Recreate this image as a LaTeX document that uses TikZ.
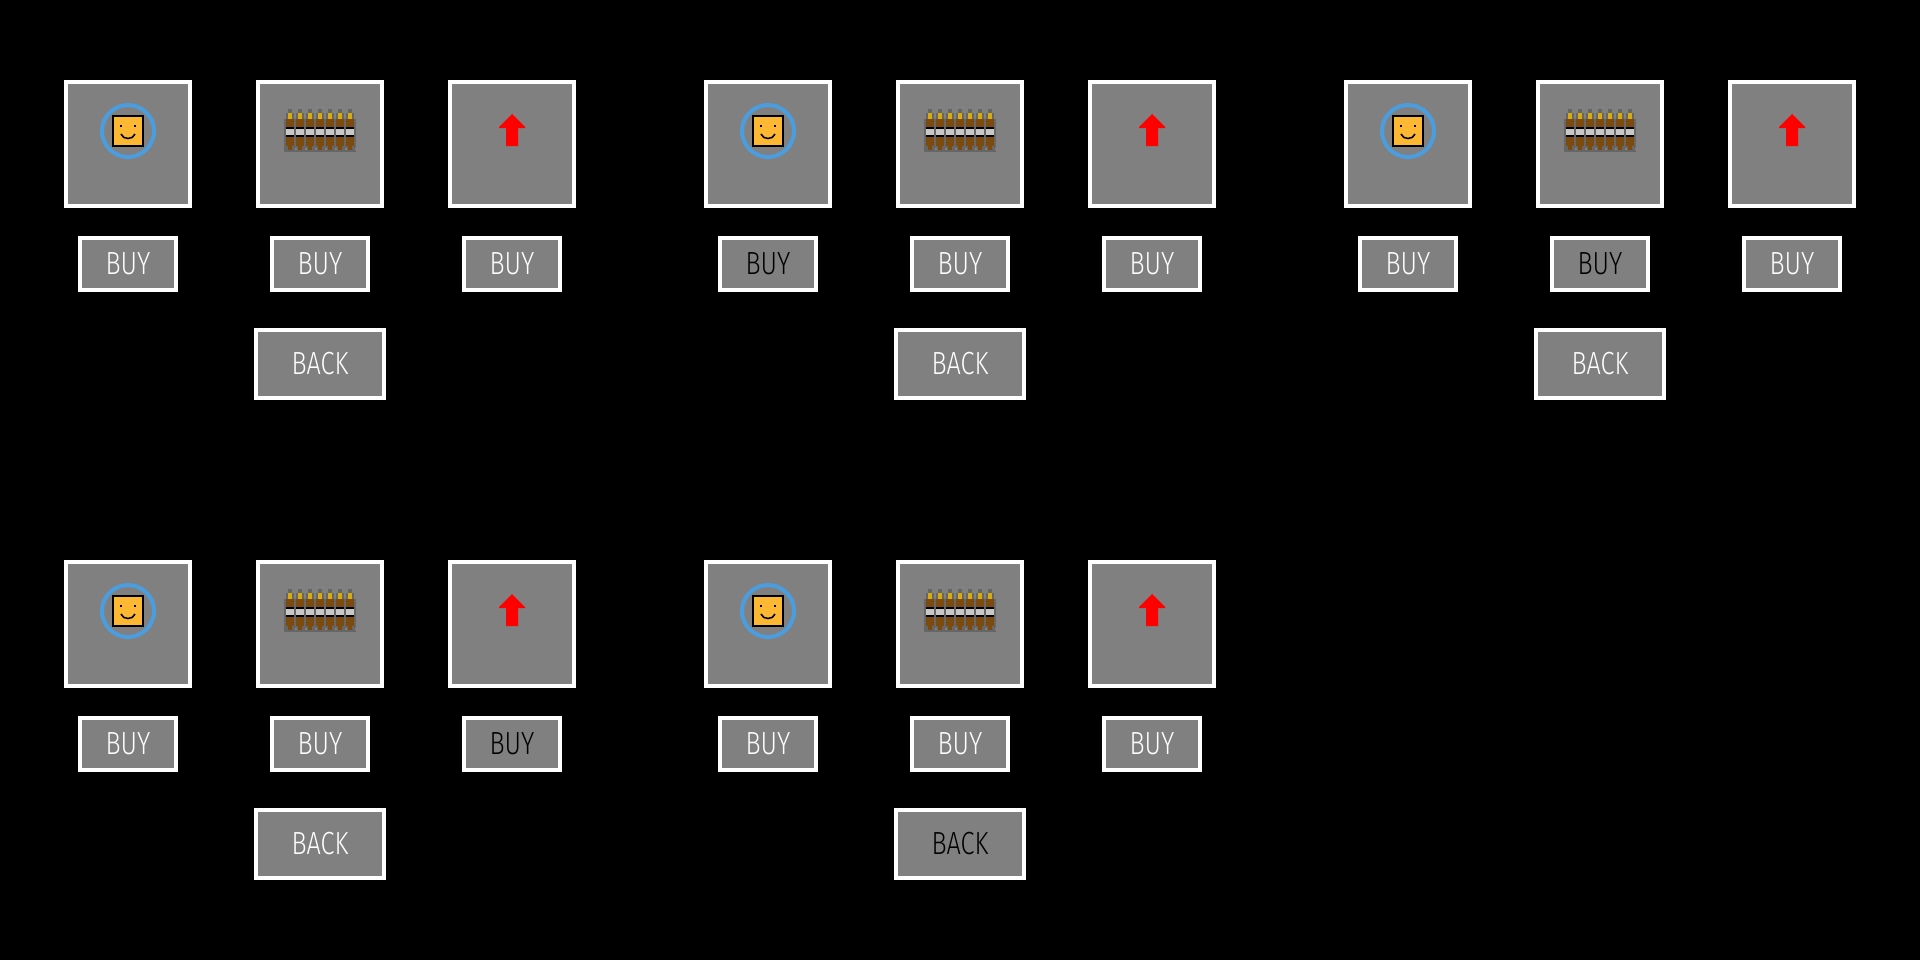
\documentclass[tikz,border=0pt]{standalone}
\usepackage{fontspec}
\setmainfont{Fira Sans Light}
\definecolor{PanelGray}{RGB}{128,128,128}
\definecolor{RingBlue}{RGB}{74,158,224}
\definecolor{FaceYellow}{RGB}{253,184,51}
\definecolor{ShellBrown}{RGB}{123,74,14}
\definecolor{TipGold}{RGB}{212,172,13}
\definecolor{BandSilver}{RGB}{200,200,200}
\definecolor{ShadeGray}{RGB}{102,102,102}
\usetikzlibrary{positioning}

\tikzset{
	card/.style={draw=white, fill=PanelGray, line width=2pt, minimum width=62pt, minimum height=62pt, inner sep=0pt},
	buybox/.style={draw=white, fill=PanelGray, line width=2pt, minimum width=48pt, minimum height=26pt, inner sep=0pt, font=\fontsize{16}{16}\selectfont},
	backbox/.style={buybox, minimum width=64pt, minimum height=34pt},
}
\newcommand{\lbl}[1]{\scalebox{0.79}[1]{#1}}

\begin{document}
\begin{tikzpicture}[x=0.5pt, y=-0.5pt]
	\useasboundingbox (0,0) rectangle (1920,959.5);
	\fill[black] (-5,-5) rectangle (1925,965);

	% gx, gy, which button is dark (1 2 3 = buy, 4 = back)
	\foreach \gx/\gy/\dark [count=\g] in {0/0/0, 640/0/1, 1280/0/2, 0/480/3, 640/480/4} {
		\begin{scope}[shift={(\gx,\gy)}]
			\node[card] (itemA\g) at (128,144) {};
			\node[card] (itemB\g) at (320,144) {};
			\node[card] (itemC\g) at (512,144) {};

			\ifnum\dark=1 \def\ca{black}\else\def\ca{white}\fi
			\ifnum\dark=2 \def\cb{black}\else\def\cb{white}\fi
			\ifnum\dark=3 \def\cc{black}\else\def\cc{white}\fi
			\ifnum\dark=4 \def\cd{black}\else\def\cd{white}\fi
			\node[buybox, text=\ca] (buyA\g) at (128,264) {\lbl{BUY}};
			\node[buybox, text=\cb] (buyB\g) at (320,264) {\lbl{BUY}};
			\node[buybox, text=\cc] (buyC\g) at (512,264) {\lbl{BUY}};
			\node[backbox, text=\cd] (back\g) at (320,364) {\lbl{BACK}};

			% shield and face
			\draw[RingBlue, line width=2pt] (128,131) circle (26);
			\draw[black, fill=FaceYellow, line width=1pt] (113,116) rectangle (143,146);
			\fill[black] (120,125) rectangle (122,127);
			\fill[black] (134,125) rectangle (136,127);
			\draw[black, line width=0.8pt] (121,134) .. controls (123,140) and (133,140) .. (135,134);

			% ammo belt
			\fill[ShadeGray] (284,119) rectangle (356,152);
			\foreach \b in {0,...,6} {
				\begin{scope}[shift={(10*\b,0)}]
					\fill[ShadeGray] (288,109) rectangle (292,113);
					\fill[ShadeGray] (286,113) rectangle (294,119);
					\fill[TipGold] (288,113) rectangle (292,119);
					\fill[ShellBrown] (286,119) rectangle (294,146);
					\fill[ShellBrown] (288,146) rectangle (292,150);
					\fill[PanelGray] (295,148) rectangle (297,150);
					\fill[black] (286,127) rectangle (294,137);
					\fill[BandSilver] (286,129) rectangle (294,135);
				\end{scope}
			}

			% speed arrow
			\fill[red] (512,114) -- (525,127) -- (525,128) -- (518,128) -- (518,146)
				-- (506,146) -- (506,128) -- (499,128) -- (499,127) -- cycle;
		\end{scope}
	}
\end{tikzpicture}
\end{document}
